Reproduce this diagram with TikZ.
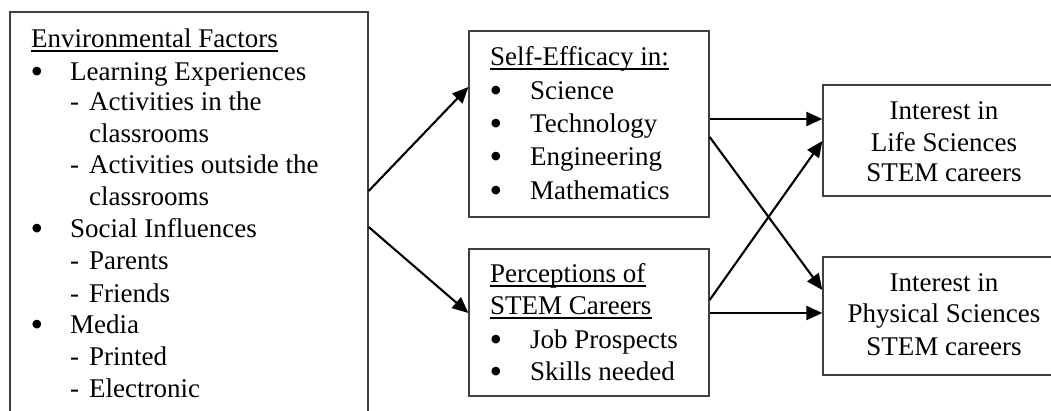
\documentclass[tikz,border=0pt]{standalone}
\usepackage{fontspec}
\setmainfont{Liberation Serif}
\usetikzlibrary{arrows.meta}
\begin{document}
\begin{tikzpicture}[x=1pt,y=-1pt,
 box/.style={draw=black!75, line width=1.3pt, inner sep=0pt},
 txt/.style={anchor=base west, inner sep=0pt, font=\fontsize{27}{32}\selectfont},
 ctxt/.style={anchor=base, inner sep=0pt, font=\fontsize{27}{32}\selectfont},
 bul/.style={anchor=base, inner sep=0pt, text height=12pt, text depth=0pt, font=\fontsize{36}{36}\selectfont},
 arr/.style={line width=2.1pt, -{Triangle[length=16pt,width=14pt]}},
 ul/.style={line width=1.2pt}]
\useasboundingbox (0,0) rectangle (1051,411);
\clip (0,0) rectangle (1051,411);
% boxes
\node[box, minimum width=358pt, minimum height=418pt] (env) at (189,221) {};
\node[box, minimum width=240pt, minimum height=186pt] (se) at (589,124) {};
\node[box, minimum width=240pt, minimum height=147pt] (per) at (589,322.5) {};
\node[box, minimum width=242pt, minimum height=111pt] (life) at (944,140.5) {};
\node[box, minimum width=242pt, minimum height=118pt] (phys) at (944,316) {};
% left box text
\node[txt] (ef) at (31,48) {Environmental Factors};
\draw[ul] ([yshift=-3pt]ef.base west) -- ([yshift=-3pt]ef.base east);
\node[bul] (b1) at (37,84) {•};
\node[txt] (le) at (70,81) {Learning Experiences};
\node[txt] (d1) at (70,111) {-};
\node[txt] (a1) at (89,111) {Activities in the};
\node[txt] (c1) at (89,143) {classrooms};
\node[txt] (d2) at (70,174) {-};
\node[txt] (a2) at (89,174) {Activities outside the};
\node[txt] (c2) at (89,206) {classrooms};
\node[bul] (b2) at (37,241) {•};
\node[txt] (si) at (70,238) {Social Influences};
\node[txt] (d3) at (70,270) {-};
\node[txt] (pa) at (89,270) {Parents};
\node[txt] (d4) at (70,302) {-};
\node[txt] (fr) at (89,302) {Friends};
\node[bul] (b3) at (37,336) {•};
\node[txt] (me) at (70,333) {Media};
\node[txt] (d5) at (70,365) {-};
\node[txt] (pr) at (89,365) {Printed};
\node[txt] (d6) at (70,397) {-};
\node[txt] (el) at (89,397) {Electronic};
% self-efficacy
\node[txt] (sf) at (490,66) {Self-Efficacy in:};
\draw[ul] ([yshift=-3pt]sf.base west) -- ([yshift=-3pt]sf.base east);
\node[bul] (b4) at (496,103) {•};
\node[txt] (sc) at (530,100) {Science};
\node[bul] (b5) at (496,136) {•};
\node[txt] (te) at (530,133) {Technology};
\node[bul] (b6) at (496,169) {•};
\node[txt] (en) at (530,166) {Engineering};
\node[bul] (b7) at (496,203) {•};
\node[txt] (ma) at (530,200) {Mathematics};
% perceptions
\node[txt] (po) at (490,283) {Perceptions of};
\draw[ul] ([yshift=-3pt]po.base west) -- ([yshift=-3pt]po.base east);
\node[txt] (sc2) at (490,315) {STEM Careers};
\draw[ul] ([yshift=-3pt]sc2.base west) -- ([yshift=-3pt]sc2.base east);
\node[bul] (b8) at (496,351) {•};
\node[txt] (jp) at (530,348) {Job Prospects};
\node[bul] (b9) at (496,383) {•};
\node[txt] (sk) at (530,380) {Skills needed};
% right boxes text
\node[ctxt] (l1) at (944,120) {Interest in};
\node[ctxt] (l2) at (944,152) {Life Sciences};
\node[ctxt] (l3) at (944,182) {STEM careers};
\node[ctxt] (p1) at (944,292) {Interest in};
\node[ctxt] (p2) at (944,323) {Physical Sciences};
\node[ctxt] (p3) at (944,355) {STEM careers};
% arrows
\draw[arr] (env.east |- 0,191) -- (se.west |- 0,87);
\draw[arr] (env.east |- 0,227) -- (per.west |- 0,313);
\draw[arr] (se.east |- 0,119) -- (life.west |- 0,119);
\draw[arr] (se.east |- 0,137) -- (phys.west |- 0,290);
\draw[arr] (per.east |- 0,300) -- (life.west |- 0,141);
\draw[arr] (per.east |- 0,313) -- (phys.west |- 0,313);
\end{tikzpicture}
\end{document}
